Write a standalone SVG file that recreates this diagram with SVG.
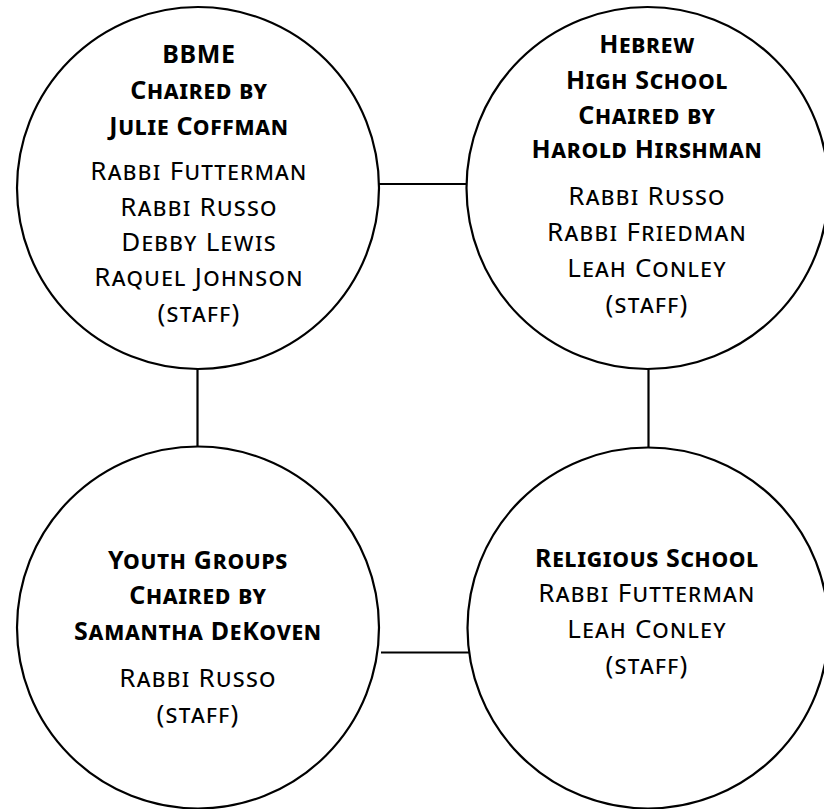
<svg xmlns="http://www.w3.org/2000/svg" width="824" height="809" viewBox="0 0 824 809">
<style>
.node{fill:#fff;stroke:#000;stroke-width:2.2}
.edge{stroke:#000;stroke-width:2.2;fill:none}
text{font-family:"Noto Sans","Liberation Sans",Arial,sans-serif;font-variant:small-caps;text-anchor:middle;fill:#000}
.h{font-weight:bold;font-size:25px;letter-spacing:0.7px}
.r{font-size:26px;letter-spacing:1.3px}
.p{font-variant:normal}
</style>
<rect width="824" height="809" fill="#fff"/>
<g id="connectors">
<line class="edge" x1="379" y1="184" x2="467" y2="184"/>
<line class="edge" x1="197.5" y1="369" x2="197.5" y2="447"/>
<line class="edge" x1="648.5" y1="369" x2="648.5" y2="448"/>
<line class="edge" x1="381" y1="652.5" x2="472" y2="652.5"/>
</g>
<g id="bbme">
<circle class="node" cx="198" cy="188" r="181"/>
<text class="h" x="199" y="63">BBME</text>
<text class="h" x="199" y="99">Chaired by</text>
<text class="h" x="199" y="135">Julie Coffman</text>
<text class="r" x="199" y="180">Rabbi Futterman</text>
<text class="r" x="199" y="215.5">Rabbi Russo</text>
<text class="r" x="199" y="250.5">Debby Lewis</text>
<text class="r" x="199" y="286">Raquel Johnson</text>
<text class="r" x="199" y="321.5"><tspan class="p">(</tspan>staff<tspan class="p">)</tspan></text>
</g>
<g id="hebrew-high-school">
<circle class="node" cx="647.5" cy="188" r="181"/>
<text class="h" x="647" y="53">Hebrew</text>
<text class="h" x="647" y="89">High School</text>
<text class="h" x="647" y="124">Chaired by</text>
<text class="h" x="647" y="158">Harold Hirshman</text>
<text class="r" x="647" y="205">Rabbi Russo</text>
<text class="r" x="647" y="241">Rabbi Friedman</text>
<text class="r" x="647" y="277">Leah Conley</text>
<text class="r" x="647" y="312.5"><tspan class="p">(</tspan>staff<tspan class="p">)</tspan></text>
</g>
<g id="youth-groups">
<circle class="node" cx="198" cy="627.5" r="181"/>
<text class="h" x="198" y="569">Youth Groups</text>
<text class="h" x="198" y="604">Chaired by</text>
<text class="h" x="198" y="640">Samantha DeKoven</text>
<text class="r" x="198" y="687">Rabbi Russo</text>
<text class="r" x="198" y="723"><tspan class="p">(</tspan>staff<tspan class="p">)</tspan></text>
</g>
<g id="religious-school">
<circle class="node" cx="648" cy="628" r="180.5"/>
<text class="h" x="647" y="567">Religious School</text>
<text class="r" x="647" y="602">Rabbi Futterman</text>
<text class="r" x="647" y="638">Leah Conley</text>
<text class="r" x="647" y="673.5"><tspan class="p">(</tspan>staff<tspan class="p">)</tspan></text>
</g>
</svg>
